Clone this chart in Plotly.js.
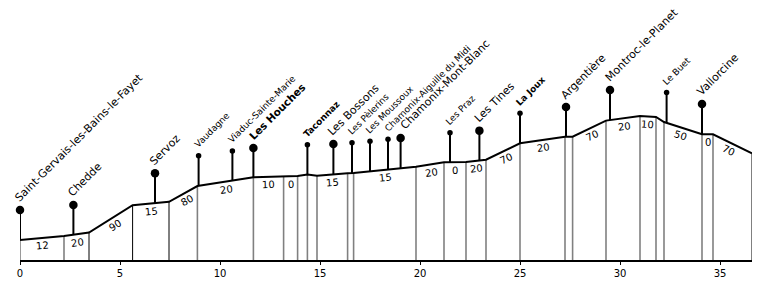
<!DOCTYPE html>
<html>
<head>
<meta charset="utf-8">
<script src="https://cdn.plot.ly/plotly-3.0.1.min.js"></script>
<style>html,body{margin:0;padding:0;background:#fff;}#chart{width:772px;height:290px;}</style>
</head>
<body>
<div id="chart"></div>
<script>
// Line profile: distance (km) and elevation (m) at each gradient change point
const profileKm   = [0, 2.2, 3.45, 5.63, 7.45, 8.87, 11.67, 13.18, 13.88, 14.37, 14.85, 16.38, 16.68, 19.8, 21.2, 22.3, 23.3, 25.0, 27.25, 27.63, 29.3, 31.0, 31.8, 32.2, 34.1, 34.65, 36.6];
const profileElev = [580, 605, 627, 799, 821, 920, 975, 981, 983, 993, 985, 1000, 1002, 1042, 1070, 1071, 1086, 1189, 1231, 1231, 1332, 1361, 1355, 1323, 1246, 1246, 1126];
// Gradient (per mille) label for each segment
const gradientLabels = ["12","20","90","15","80","20","10","0","","","15","","15","20","0","20","70","20","","70","20","10","","50","0","70"];
// Break points drawn with a dark rule (others are grey)
const darkBreakKm = [3.45, 5.63, 7.45, 36.6];

// Stations
const stationNames = ["Saint-Gervais-les-Bains-le-Fayet","Chedde","Servoz","Vaudagne","Viaduc-Sainte-Marie","Les Houches","Taconnaz","Les Bossons","Les Pèlerins","Les Moussoux","Chamonix-Aiguille du Midi","Chamonix-Mont-Blanc","Les Praz","Les Tines","La Joux","Argentière","Montroc-le-Planet","Le Buet","Vallorcine"];
const stationKm    = [0, 2.67, 6.75, 8.93, 10.62, 11.67, 14.37, 15.67, 16.6, 17.5, 18.4, 19.03, 21.5, 22.97, 25.0, 27.3, 29.5, 32.33, 34.1];
const stationTop   = [769, 800, 1000, 1111, 1141, 1160, 1180, 1185, 1193, 1202, 1214, 1223, 1256, 1269, 1378, 1418, 1525, 1510, 1437];
const stationClass = ["major","major","major","halt","halt","hub","stop","major","halt","halt","halt","major","halt","major","stop","major","major","halt","major"];

const Y0 = 454, Y1 = 2092, X0 = 0, X1 = 36.6;
const PX_PER_KM = 732 / (X1 - X0), PX_PER_M = 260 / (Y1 - Y0);

function elevAt(k) {
  for (let i = 0; i < profileKm.length - 1; i++) {
    if (k >= profileKm[i] && k <= profileKm[i+1]) {
      const t = (k - profileKm[i]) / (profileKm[i+1] - profileKm[i]);
      return profileElev[i] + t * (profileElev[i+1] - profileElev[i]);
    }
  }
  return profileElev[profileElev.length-1];
}

const traces = [];
// vertical rules
const gx = [], gy = [], bx = [], by = [];
profileKm.forEach((k, i) => {
  const dark = darkBreakKm.includes(k);
  (dark ? bx : gx).push(k, k, null);
  (dark ? by : gy).push(Y0, profileElev[i], null);
});
traces.push({x: gx, y: gy, mode: 'lines', line: {color: '#808080', width: 1.6}, hoverinfo: 'skip', cliponaxis: false});
traces.push({x: bx, y: by, mode: 'lines', line: {color: '#000', width: 1}, hoverinfo: 'skip', cliponaxis: false});
// profile
traces.push({x: profileKm, y: profileElev, mode: 'lines', line: {color: '#000', width: 2}, hoverinfo: 'skip', cliponaxis: false});
// stems
const sx = [], sy = [];
stationKm.forEach((k, i) => { sx.push(k, k, null); sy.push(elevAt(k), stationTop[i], null); });
traces.push({x: sx, y: sy, mode: 'lines', line: {color: '#000', width: 2}, hoverinfo: 'skip', cliponaxis: false});
// markers
const markerSize = {major: 8.5, hub: 8.5, halt: 5.5, stop: 5.5};
traces.push({x: stationKm, y: stationTop, mode: 'markers', cliponaxis: false,
  marker: {color: '#000', opacity: 1, line: {width: 0}, size: stationClass.map(c => markerSize[c])}, hoverinfo: 'skip'});

const annotations = [];
const fontSize = {major: 11, hub: 10.5, halt: 9, stop: 9};
const bold = {major: false, hub: true, halt: false, stop: true};
const labelNudge = {"Chamonix-Mont-Blanc": 5};
stationNames.forEach((n, i) => {
  const c = stationClass[i];
  const fs = fontSize[c];
  const h = fs * 1.3 + 2;
  annotations.push({
    x: stationKm[i], y: stationTop[i], xref: 'x', yref: 'y', text: bold[c] ? '<b>' + n + '</b>' : n,
    showarrow: false, textangle: -45, xanchor: 'left', yanchor: 'bottom',
    xshift: 1 - 0.707 * h + (labelNudge[n] || 0), yshift: 3,
    font: {family: 'DejaVu Sans', size: fs, color: '#000'}
  });
});
for (let i = 0; i < gradientLabels.length; i++) {
  if (!gradientLabels[i]) continue;
  const dxp = (profileKm[i+1] - profileKm[i]) * PX_PER_KM;
  const dyp = (profileElev[i+1] - profileElev[i]) * PX_PER_M;
  const th = Math.atan2(dyp, dxp);
  const d = 8;
  annotations.push({
    x: (profileKm[i] + profileKm[i+1]) / 2, y: (profileElev[i] + profileElev[i+1]) / 2,
    xref: 'x', yref: 'y', text: gradientLabels[i], showarrow: false,
    textangle: -th * 180 / Math.PI, xanchor: 'center', yanchor: 'middle',
    xshift: d * Math.sin(th), yshift: -d * Math.cos(th),
    font: {family: 'DejaVu Sans', size: 10, color: '#000'}
  });
}

const layout = {
  width: 772, height: 290,
  margin: {l: 20, r: 20, t: 0, b: 30},
  paper_bgcolor: '#fff', plot_bgcolor: '#fff',
  showlegend: false,
  xaxis: {range: [X0, X1], showgrid: false, zeroline: false, showline: true, linecolor: '#000', linewidth: 2,
    ticks: 'outside', ticklen: 3, tickwidth: 1, tickcolor: '#000', tickvals: [0,5,10,15,20,25,30,35],
    tickfont: {family: 'DejaVu Sans', size: 10, color: '#000'}},
  yaxis: {range: [Y0, Y1], visible: false, showgrid: false, zeroline: false},
  annotations: annotations
};
Plotly.newPlot('chart', traces, layout, {staticPlot: true, displayModeBar: false});
</script>
</body>
</html>
